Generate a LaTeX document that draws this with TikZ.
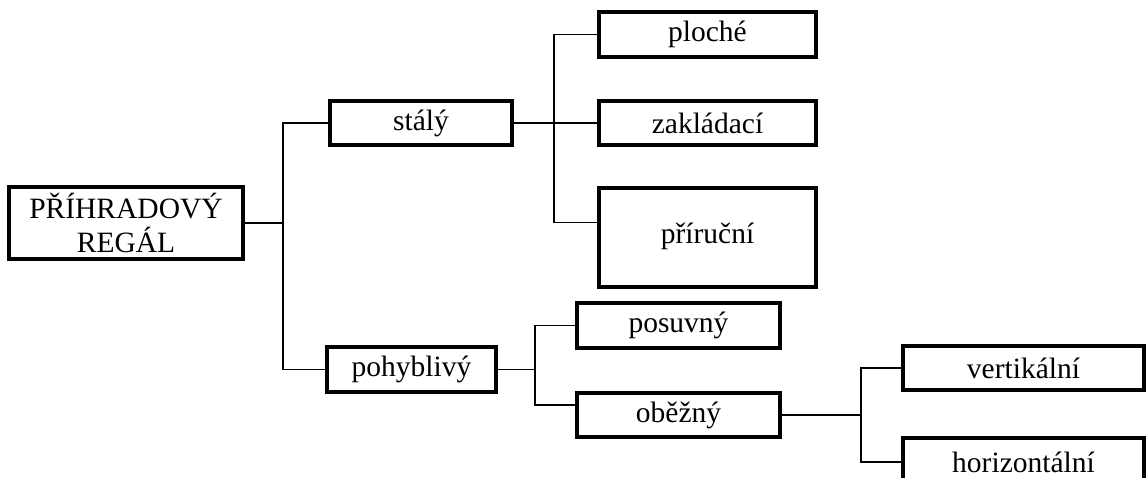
\documentclass[tikz,border=0pt]{standalone}
\usepackage{fontspec}
\setmainfont{Liberation Serif}
\begin{document}
\begin{tikzpicture}[x=1pt,y=-1pt,
  box/.style={draw, line width=3.3pt, inner sep=0pt, align=center,
              font=\fontsize{29.5}{34}\selectfont},
  link/.style={line width=1.7pt}]
\useasboundingbox (0,0) rectangle (1146,478);
\begin{scope}
\clip (0,0) rectangle (1146,478);
% boxes
\node[box, minimum width=234pt, minimum height=72pt] (root) at (126,223) {PŘÍHRADOVÝ\\REGÁL};
\node[box, minimum width=182pt, minimum height=44pt] (stal) at (421,123) {stálý};
\node[box, minimum width=169pt, minimum height=45pt] (pohyb) at (411.5,369.5) {pohyblivý};
\node[box, minimum width=217pt, minimum height=45pt] (ploche) at (707.5,34.5) {ploché};
\node[box, minimum width=217pt, minimum height=44pt] (zaklad) at (707.5,123) {zakládací};
\node[box, minimum width=217pt, minimum height=99pt] (pri) at (707.5,237.5) {\raisebox{9pt}{příruční}};
\node[box, minimum width=203pt, minimum height=45pt] (posuv) at (678.5,325.5) {posuvný};
\node[box, minimum width=203pt, minimum height=44pt] (obez) at (678.5,415) {oběžný};
\node[box, minimum width=241pt, minimum height=44pt] (vert) at (1023.5,368) {vertikální};
\node[box, minimum width=241pt, minimum height=48pt] (horiz) at (1023.5,462) {horizontální};
% junctions of the tree
\coordinate (j1) at (283,223);
\coordinate (j2) at (554,123);
\coordinate (j3) at (535,369.5);
\coordinate (j4) at (861,415);
% connectors
\draw[link] (root.east) -- (j1);
\draw[link] (stal.west) -| (j1);
\draw[link] (pohyb.west) -| (j1);
\draw[link] (stal.east) -- (j2);
\draw[link] (ploche.west) -| (j2);
\draw[link] (zaklad.west) -- (j2);
\draw[link] ([yshift=15pt]pri.west) -| (j2);
\draw[link] (pohyb.east) -- (j3);
\draw[link] (posuv.west) -| (j3);
\draw[link] ([yshift=10pt]obez.west) -| (j3);
\draw[link] (obez.east) -- (j4);
\draw[link] (vert.west) -| (j4);
\draw[link] (horiz.west) -| (j4);
\end{scope}
\end{tikzpicture}
\end{document}
